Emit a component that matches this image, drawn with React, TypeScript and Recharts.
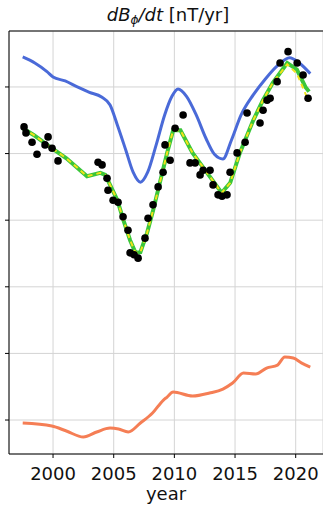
import React from "react";
import {
  ComposedChart,
  Line,
  XAxis,
  YAxis,
  CartesianGrid,
  ReferenceLine,
} from "recharts";

// values (arbitrary units, grid step = 10)
const obsYears = [
  1997.61, 1997.77, 1998.27, 1998.68, 1999.34, 1999.59, 1999.92, 2000.41,
  2003.71, 2004.04, 2004.45, 2004.53, 2004.95, 2005.36, 2005.77, 2006.18,
  2006.35, 2006.68, 2007.01, 2007.58, 2007.83, 2008.24, 2008.66, 2009.07,
  2009.23, 2009.65, 2010.06, 2010.72, 2011.29, 2011.71, 2012.12, 2012.37,
  2012.94, 2013.19, 2013.6, 2013.93, 2014.34, 2014.59, 2015.17, 2015.83,
  2015.99, 2017.06, 2017.31, 2017.64, 2017.89, 2018.47, 2018.71, 2019.37,
  2020.12, 2020.61, 2021.02,
];
const obsValues = [
  44.0, 43.1, 41.7, 39.9, 41.3, 42.5, 40.8, 38.9,
  38.7, 38.3, 36.3, 34.5, 33.0, 32.7, 30.5, 28.5,
  25.1, 24.8, 24.3, 27.3, 30.3, 32.3, 35.0, 37.2,
  41.3, 39.0, 43.8, 45.8, 38.6, 38.6, 36.8, 37.5,
  37.5, 35.3, 33.8, 33.6, 33.8, 37.2, 40.1, 41.7,
  46.1, 44.6, 46.5, 48.0, 48.3, 50.8, 53.6, 55.3,
  53.6, 51.8, 48.3,
];

const blueYears = [
  1997.5, 1998.5, 1999.5, 2000, 2001, 2002, 2003, 2004, 2004.7, 2005.3, 2006,
  2006.6, 2007.2, 2007.8, 2008.5, 2009.2, 2009.8, 2010.3, 2011, 2011.8, 2012.6,
  2013.3, 2014, 2014.7, 2015.5, 2016.5, 2017.5, 2018.5, 2019.5, 2020.3, 2021.2,
];
const blueValues = [
  54.5, 53.6, 52.3, 51.5, 50.9, 50.0, 49.2, 48.5, 47.3, 44.3, 40.5,
  37.2, 35.7, 37.2, 41.3, 45.8, 48.6, 49.7, 48.6, 45.8, 42.3,
  39.9, 39.2, 42.0, 45.8, 48.8, 51.2, 53.2, 54.4, 53.6, 52.0,
];

const fitYears = [
  1997.5, 1998.4, 1999.75, 2001.1, 2002.8, 2003.9, 2004.3, 2004.7, 2005.3,
  2005.8, 2006.35, 2006.8, 2007.2, 2007.75, 2008.25, 2008.8, 2009.4, 2009.9,
  2010.5, 2011.5, 2012.7, 2013.9, 2014.6, 2015.4, 2016.5, 2017.3, 2018.1,
  2019.3, 2020.1, 2020.8, 2021.1,
];
const greenValues = [
  43.8, 42.8, 41.0, 39.3, 36.6, 37.1, 36.8, 35.3, 33.0,
  30.0, 27.0, 25.1, 25.2, 28.1, 31.5, 35.6, 40.1, 43.5,
  43.5, 40.1, 37.1, 34.1, 35.6, 40.1, 45.0, 48.0, 50.6,
  53.6, 52.6, 50.0, 49.3,
];
const yellowValues = [
  43.8, 42.8, 41.0, 39.3, 36.6, 37.1, 36.8, 35.3, 33.0,
  30.0, 27.0, 25.1, 25.2, 28.1, 31.5, 35.6, 40.1, 43.5,
  43.5, 40.1, 37.1, 34.1, 35.6, 40.1, 45.0, 48.0, 50.6,
  53.4, 52.0, 49.0, 47.8,
];

const orangeYears = [
  1997.5, 1999.9, 2001.1, 2002.5, 2003.6, 2004.7, 2005.4, 2006.2, 2007.2,
  2008.2, 2009.1, 2009.4, 2009.9, 2011.5, 2012.9, 2014.0, 2014.8, 2015.7,
  2016.7, 2017.6, 2018.5, 2019.1, 2019.8, 2020.5, 2021.2,
];
const orangeValues = [
  -0.45, -0.9, -1.65, -2.55, -1.8, -1.2, -1.35, -1.8, -0.45,
  1.05, 3.0, 3.45, 4.2, 3.6, 4.05, 4.65, 5.55, 7.05,
  6.9, 7.8, 8.25, 9.45, 9.3, 8.55, 7.95,
];

const xTicks = [2000, 2005, 2010, 2015, 2020];
const yTicks = [0, 10, 20, 30, 40, 50];

const zip = (xs: number[], ys: number[]) => xs.map((x, i) => ({ x, y: ys[i] }));

const font = "'DejaVu Sans', sans-serif";

// y tick labels are cropped away in the figure, only the marks stay
const NoLabel = () => <g />;

export default function App() {
  const obs = zip(obsYears, obsValues);
  const blue = zip(blueYears, blueValues);
  const green = zip(fitYears, greenValues);
  const yellow = zip(fitYears, yellowValues);
  const orange = zip(orangeYears, orangeValues);

  return (
    <div style={{ position: "absolute", left: 0, top: 0, width: 323, height: 505, fontFamily: font }}>
      <div
        style={{
          position: "absolute",
          left: 0,
          width: 336,
          top: 4,
          textAlign: "center",
          fontSize: 18,
          color: "#111",
          whiteSpace: "nowrap",
        }}
      >
        <i>dB</i>
        <sub style={{ fontSize: 12, fontStyle: "italic", verticalAlign: "-3px" }}>ϕ</sub>
        <i>/dt</i> [nT/yr]
      </div>
      <ComposedChart
        width={323}
        height={505}
        margin={{ top: 31, right: 0, bottom: 0, left: 0 }}
      >
        <CartesianGrid stroke="#d4d4d4" strokeWidth={1} />
        <XAxis
          dataKey="x"
          type="number"
          domain={[1996.37, 2022.25]}
          allowDataOverflow
          ticks={xTicks}
          tickSize={4}
          tickMargin={9}
          height={51}
          stroke="#000"
          tick={{ fontSize: 18, fill: "#111", fontFamily: font }}
          label={{
            value: "year",
            position: "insideBottom",
            offset: 5,
            style: { fontSize: 18, fill: "#111", fontFamily: font },
          }}
        />
        <YAxis
          type="number"
          domain={[-5.1, 58.4]}
          allowDataOverflow
          ticks={yTicks}
          width={9}
          tickSize={4}
          tick={NoLabel}
          stroke="#000"
        />
        <ReferenceLine y={58.4} stroke="#000" strokeWidth={1.2} />
        <Line
          data={obs}
          dataKey="y"
          stroke="none"
          dot={{ r: 3.8, fill: "#000", stroke: "none" }}
          isAnimationActive={false}
        />
        <Line
          data={blue}
          dataKey="y"
          type="monotone"
          stroke="#4a6ad8"
          strokeWidth={3}
          dot={false}
          isAnimationActive={false}
        />
        <Line
          data={green}
          dataKey="y"
          type="linear"
          stroke="#3ac63a"
          strokeWidth={4}
          dot={false}
          isAnimationActive={false}
        />
        <Line
          data={yellow}
          dataKey="y"
          type="linear"
          stroke="#f2e21a"
          strokeWidth={2}
          strokeDasharray="5 4"
          dot={false}
          isAnimationActive={false}
        />
        <Line
          data={orange}
          dataKey="y"
          type="monotone"
          stroke="#f57e55"
          strokeWidth={3}
          dot={false}
          isAnimationActive={false}
        />
      </ComposedChart>
    </div>
  );
}
